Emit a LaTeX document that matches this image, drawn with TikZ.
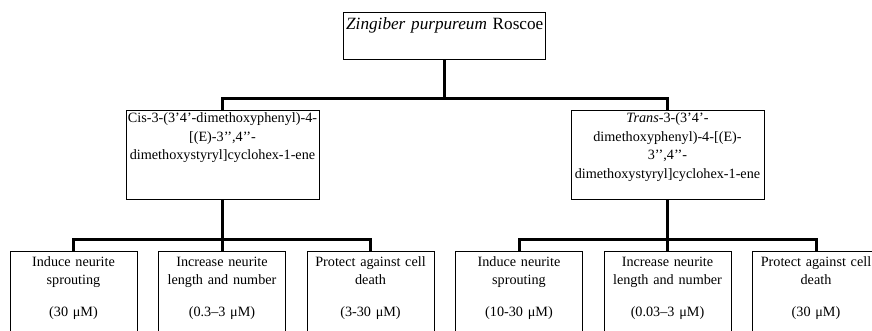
\documentclass[tikz,border=0pt]{standalone}
\usepackage{fontspec}
\setmainfont{Liberation Serif}

\begin{document}
\begin{tikzpicture}[
  x=1pt, y=1pt,
  font=\fontsize{14.2}{18.5}\selectfont,
  box/.style={rectangle, draw, line width=1pt, anchor=north,
              inner xsep=1pt, inner ysep=0pt, align=center},
  plantbox/.style={box, font=\fontsize{17.2}{21}\selectfont,
                   text width=200pt, text height=16.4pt, text depth=30.3pt},
  compbox/.style={box, text width=191pt, text height=12pt, text depth=76.8pt},
  effectbox/.style={box, text width=125pt, text height=14.5pt, text depth=85.5pt},
  link/.style={line width=3pt}
]
\clip (0,0) rectangle (872,-331);

\node[plantbox] (plant) at (444.75,-12.3) {\textit{Zingiber purpureum} Roscoe};

\node[compbox] (cis) at (222.5,-110.5)
  {Cis-3-(3’4’-dimethoxyphenyl)-4-\\{}[(E)-3’{}’,4’{}’-\\dimethoxystyryl]cyclohex-1-ene};
\node[compbox] (trans) at (667.5,-110.5)
  {\textit{Trans}-3-(3’4’-\\dimethoxyphenyl)-4-[(E)-\\3’{}’,4’{}’-\\dimethoxystyryl]cyclohex-1-ene};

\node[effectbox] (cis1) at (73.5,-251) {Induce neurite\\sprouting\\[13.5pt](30 μM)};
\node[effectbox] (cis2) at (222,-251) {Increase neurite\\length and number\\[13.5pt](0.3–3 μM)};
\node[effectbox] (cis3) at (370.5,-251) {Protect against cell\\death\\[13.5pt](3-30 μM)};
\node[effectbox] (trans1) at (519,-251) {Induce neurite\\sprouting\\[13.5pt](10-30 μM)};
\node[effectbox] (trans2) at (667.5,-251) {Increase neurite\\length and number\\[13.5pt](0.03–3 μM)};
\node[effectbox] (trans3) at (816,-251) {Protect against cell\\death\\[13.5pt](30 μM)};

% tree links
\foreach \c in {cis,trans}
  \draw[link] (plant.south) |- ([yshift=12.2pt]\c.north) -- (\c.north);
\foreach \e in {cis1,cis2,cis3}
  \draw[link] (cis.south) |- ([yshift=11.5pt]\e.north) -- (\e.north);
\foreach \e in {trans1,trans2,trans3}
  \draw[link] (trans.south) |- ([yshift=11.5pt]\e.north) -- (\e.north);
\end{tikzpicture}
\end{document}
